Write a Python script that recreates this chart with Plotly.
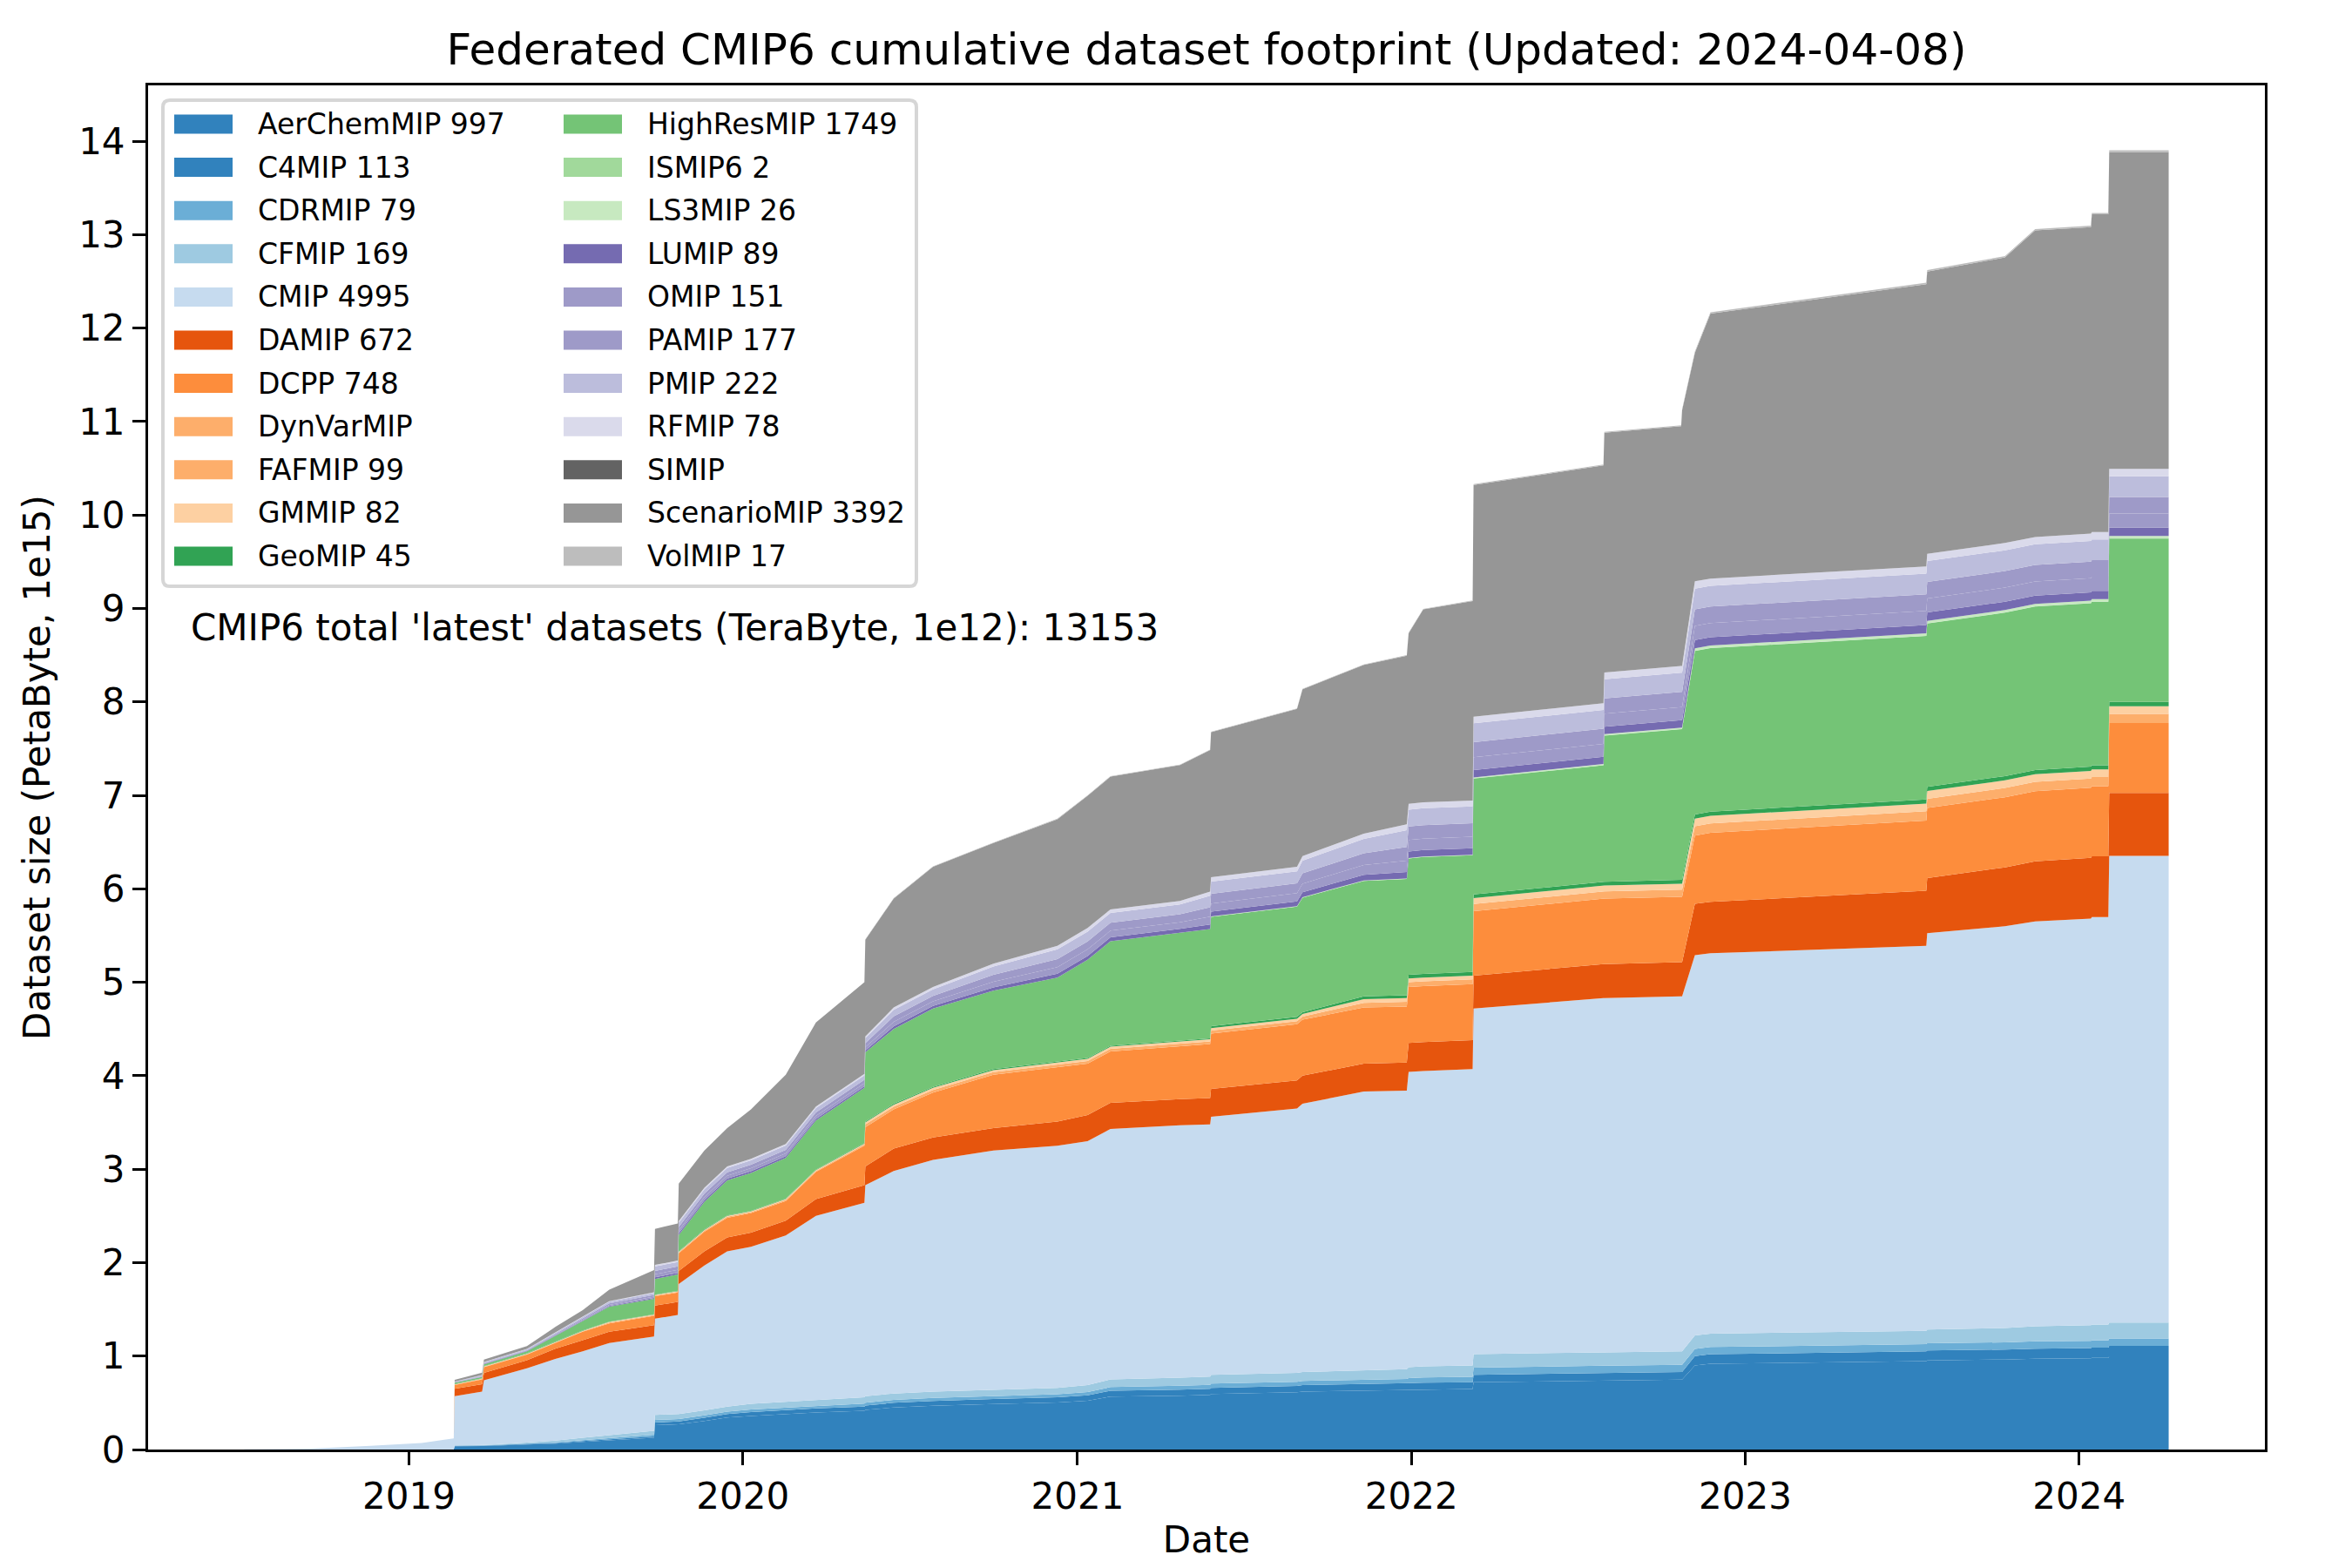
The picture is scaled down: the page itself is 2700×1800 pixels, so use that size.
import pandas as pd
import plotly.graph_objects as go

# snapshot dates (pairs of adjacent days mark the sudden jumps)
DATES = [
    "2018-07-05", "2018-09-15", "2018-11-20", "2019-01-15", "2019-02-19",
    "2019-02-20", "2019-03-22", "2019-03-24", "2019-05-10", "2019-06-10",
    "2019-07-10", "2019-08-08", "2019-09-26", "2019-09-27", "2019-10-22",
    "2019-10-23", "2019-11-20", "2019-12-15", "2020-01-10", "2020-02-17",
    "2020-03-21", "2020-05-13", "2020-05-14", "2020-06-14", "2020-07-27",
    "2020-10-01", "2020-12-10", "2021-01-12", "2021-02-06", "2021-04-23",
    "2021-05-26", "2021-05-27", "2021-08-29", "2021-09-04", "2021-11-10",
    "2021-12-27", "2021-12-29", "2022-01-14", "2022-03-09", "2022-03-10",
    "2022-07-30", "2022-07-31", "2022-10-23", "2022-10-24", "2022-11-07",
    "2022-11-24", "2023-07-18", "2023-07-19", "2023-10-12", "2023-11-14",
    "2024-01-14", "2024-01-15", "2024-02-02", "2024-02-03", "2024-04-08",
]

# cumulative footprint per activity, TeraByte
AERCHEMMIP = [0, 0, 0, 0, 0, 36, 36, 38, 54, 63, 81, 99, 126, 261, 266, 270, 306, 342, 360, 378,
              396, 414, 423, 450, 468, 486, 504, 522, 567, 576, 585, 594, 612, 621, 630, 635, 639, 643, 648, 720,
              738, 738, 747, 747, 900, 918, 945, 954, 963, 972, 977, 981, 981, 997, 997]
C4MIP = [0, 0, 0, 0, 0, 4, 4, 4, 6, 7, 9, 11, 14, 29, 29, 30, 34, 38, 40, 42,
         44, 46, 47, 50, 52, 54, 56, 58, 63, 64, 65, 66, 68, 69, 70, 70, 71, 72, 72, 80,
         82, 82, 83, 83, 100, 102, 105, 106, 107, 108, 108, 109, 109, 113, 113]
CDRMIP = [0, 0, 0, 0, 0, 2, 2, 2, 5, 8, 11, 14, 19, 26, 26, 26, 26, 26, 29, 29,
          29, 32, 32, 32, 32, 32, 32, 35, 38, 42, 42, 45, 45, 45, 48, 50, 54, 56, 58, 77,
          77, 77, 77, 77, 77, 77, 77, 77, 77, 78, 78, 78, 78, 79, 79]
CFMIP = [0, 0, 0, 0, 0, 3, 3, 4, 10, 17, 24, 31, 41, 54, 54, 54, 54, 54, 61, 61,
         61, 68, 68, 68, 68, 68, 68, 75, 82, 88, 88, 95, 95, 95, 102, 105, 116, 119, 122, 143,
         143, 143, 143, 143, 143, 143, 143, 148, 153, 162, 168, 169, 169, 169, 169]
CMIP = [2, 10, 40, 70, 120, 525, 575, 692, 795, 875, 925, 985, 1010, 1030, 1065, 1390, 1550, 1660, 1680, 1780,
        1970, 2080, 2260, 2380, 2480, 2560, 2590, 2610, 2680, 2700, 2700, 2760, 2830, 2870, 2980, 2980, 3160, 3160, 3170, 3700,
        3790, 3790, 3800, 3800, 4070, 4070, 4120, 4240, 4300, 4330, 4350, 4360, 4360, 4995, 4995]
DAMIP = [0, 0, 0, 0, 0, 80, 80, 80, 85, 110, 120, 120, 120, 140, 140, 140, 150, 150, 150, 160,
         180, 190, 200, 240, 240, 240, 260, 280, 280, 280, 280, 300, 300, 300, 300, 300, 310, 310, 310, 350,
         365, 365, 365, 365, 550, 550, 590, 590, 630, 645, 650, 650, 650, 672, 672]
DCPP = [0, 0, 0, 0, 0, 40, 50, 60, 60, 60, 90, 90, 100, 100, 100, 190, 210, 210, 210, 210,
        290, 420, 420, 420, 480, 570, 580, 550, 550, 570, 580, 590, 600, 600, 600, 600, 600, 600, 600, 690,
        700, 700, 700, 700, 730, 740, 750, 750, 750, 750, 750, 750, 750, 748, 748]
DYNVARMIP = [0, 0, 0, 0, 0, 0, 0, 0, 0, 0, 0, 0, 0, 0, 0, 0, 0, 0, 0, 0,
             0, 0, 0, 0, 0, 0, 0, 0, 0, 0, 0, 0, 0, 0, 0, 0, 0, 0, 0, 0,
             0, 0, 0, 0, 0, 0, 0, 0, 0, 0, 0, 0, 0, 0, 0]
FAFMIP = [0, 0, 0, 0, 0, 6, 6, 6, 6, 6, 6, 8, 8, 8, 8, 8, 11, 11, 11, 11,
          11, 14, 28, 28, 28, 28, 28, 28, 28, 28, 28, 33, 33, 33, 50, 50, 50, 50, 50, 77,
          77, 77, 77, 77, 99, 99, 99, 99, 99, 99, 99, 99, 99, 99, 99]
GMMIP = [0, 0, 0, 0, 0, 4, 4, 4, 5, 5, 5, 7, 7, 7, 7, 7, 9, 9, 9, 9,
         9, 11, 22, 22, 22, 22, 22, 22, 22, 22, 22, 27, 27, 27, 40, 40, 40, 40, 40, 63,
         63, 63, 63, 63, 82, 82, 82, 82, 82, 82, 82, 82, 82, 82, 82]
GEOMIP = [0, 0, 0, 0, 0, 3, 3, 3, 3, 3, 3, 3, 3, 3, 3, 5, 5, 5, 5, 5,
          5, 5, 10, 10, 10, 10, 10, 10, 10, 10, 10, 20, 20, 20, 30, 30, 40, 40, 40, 40,
          40, 40, 40, 40, 45, 45, 45, 45, 45, 45, 45, 45, 45, 45, 45]
HIGHRESMIP = [0, 0, 0, 0, 0, 12, 14, 19, 23, 62, 107, 160, 165, 167, 175, 175, 295, 375, 405, 435,
              525, 590, 740, 800, 840, 840, 900, 1050, 1120, 1150, 1170, 1170, 1180, 1225, 1235, 1245, 1245, 1250, 1250, 1240,
              1246, 1563, 1613, 1613, 1749, 1749, 1749, 1749, 1749, 1749, 1749, 1749, 1749, 1749, 1749]
ISMIP6 = [0, 0, 0, 0, 0, 0, 0, 0, 0, 0, 0, 0, 0, 0, 0, 0, 0, 0, 0, 0,
          0, 0, 0, 0, 0, 0, 0, 0, 0, 0, 0, 0, 0, 0, 0, 0, 0, 0, 0, 2,
          2, 2, 2, 2, 2, 2, 2, 2, 2, 2, 2, 2, 2, 2, 2]
LS3MIP = [0, 0, 0, 0, 0, 0, 0, 0, 0, 0, 0, 0, 0, 0, 0, 0, 0, 0, 0, 0,
          0, 0, 0, 0, 0, 0, 0, 0, 0, 0, 0, 5, 5, 5, 5, 5, 5, 5, 5, 10,
          12, 15, 15, 15, 26, 26, 26, 26, 26, 26, 26, 26, 26, 26, 26]
LUMIP = [0, 0, 0, 0, 0, 2, 2, 3, 3, 4, 5, 7, 8, 18, 18, 18, 18, 18, 18, 18,
         18, 18, 20, 28, 28, 35, 41, 41, 41, 41, 48, 50, 50, 53, 60, 70, 70, 70, 70, 78,
         78, 79, 79, 79, 89, 89, 89, 89, 89, 89, 89, 89, 89, 89, 89]
OMIP = [0, 0, 0, 0, 0, 3, 4, 5, 5, 7, 8, 13, 15, 32, 32, 32, 32, 32, 32, 32,
        32, 32, 36, 48, 48, 61, 71, 71, 71, 71, 84, 88, 88, 92, 105, 122, 122, 122, 122, 137,
        137, 139, 139, 139, 151, 151, 151, 151, 151, 151, 151, 151, 151, 151, 151]
PAMIP = [0, 0, 0, 0, 0, 3, 5, 6, 6, 9, 10, 15, 18, 37, 37, 37, 37, 37, 37, 37,
         37, 37, 43, 58, 58, 73, 85, 85, 85, 85, 100, 105, 105, 110, 125, 145, 145, 145, 145, 163,
         163, 165, 165, 165, 177, 177, 177, 177, 177, 177, 177, 177, 177, 177, 177]
PMIP = [0, 0, 0, 0, 0, 4, 6, 8, 8, 11, 12, 19, 22, 47, 47, 47, 47, 47, 47, 47,
        47, 47, 53, 71, 71, 90, 105, 105, 105, 105, 124, 130, 130, 136, 155, 180, 180, 180, 180, 201,
        201, 205, 205, 205, 222, 222, 222, 222, 222, 222, 222, 222, 222, 222, 222]
RFMIP = [0, 0, 0, 0, 0, 1, 3, 3, 3, 4, 5, 6, 7, 16, 16, 16, 16, 16, 16, 16,
         16, 16, 18, 25, 25, 31, 38, 38, 38, 38, 44, 47, 47, 49, 55, 63, 63, 63, 63, 71,
         71, 72, 72, 72, 78, 78, 78, 78, 78, 78, 78, 78, 78, 78, 78]
SIMIP = [0, 0, 0, 0, 0, 0, 0, 0, 0, 0, 0, 0, 0, 0, 0, 0, 0, 0, 0, 0,
         0, 0, 0, 0, 0, 0, 0, 0, 0, 0, 0, 0, 0, 0, 0, 0, 0, 0, 0, 0,
         0, 0, 0, 0, 0, 0, 0, 0, 0, 0, 0, 0, 0, 0, 0]
SCENARIOMIP = [0, 0, 0, 0, 0, 17, 25, 25, 30, 60, 70, 122, 237, 385, 397, 400, 400, 410, 530, 740,
               900, 980, 1035, 1165, 1285, 1290, 1355, 1415, 1420, 1455, 1515, 1550, 1690, 1785, 1805, 1805, 1825, 2065, 2135, 2478,
               2545, 2565, 2565, 2735, 2445, 2835, 3020, 3020, 3055, 3280, 3280, 3400, 3400, 3392, 3392]
VOLMIP = [0, 0, 0, 0, 0, 0, 0, 0, 0, 0, 0, 0, 0, 0, 0, 0, 0, 0, 0, 0,
          0, 0, 5, 5, 5, 5, 5, 5, 5, 5, 5, 5, 5, 5, 5, 5, 5, 5, 5, 10,
          10, 10, 10, 10, 15, 15, 15, 15, 15, 15, 15, 15, 15, 17, 17]

NAMES = ["AerChemMIP", "C4MIP", "CDRMIP", "CFMIP", "CMIP", "DAMIP", "DCPP", "DynVarMIP",
         "FAFMIP", "GMMIP", "GeoMIP", "HighResMIP", "ISMIP6", "LS3MIP", "LUMIP", "OMIP",
         "PAMIP", "PMIP", "RFMIP", "SIMIP", "ScenarioMIP", "VolMIP"]
SERIES = [AERCHEMMIP, C4MIP, CDRMIP, CFMIP, CMIP, DAMIP, DCPP, DYNVARMIP,
          FAFMIP, GMMIP, GEOMIP, HIGHRESMIP, ISMIP6, LS3MIP, LUMIP, OMIP,
          PAMIP, PMIP, RFMIP, SIMIP, SCENARIOMIP, VOLMIP]
COLORS = ["#3182bd", "#3182bd", "#6baed6", "#9ecae1", "#c6dbef", "#e6550d", "#fd8d3c", "#fdae6b",
          "#fdae6b", "#fdd0a2", "#31a354", "#74c476", "#a1d99b", "#c7e9c0", "#756bb1", "#9e9ac8",
          "#9e9ac8", "#bcbddc", "#dadaeb", "#636363", "#969696", "#bdbdbd"]

TOTAL_TB = 13153
UPDATED = "2024-04-08"

FONT = "DejaVu Sans"
W, H = 2700, 1800
ML, MR, MT, MB = 162, 108, 90, 144
PW, PH = W - ML - MR, H - MT - MB


def px(x):
    return (x - ML) / PW


def py(y):
    return (H - MB - y) / PH


fig = go.Figure()

for name, color, values in zip(NAMES, COLORS, SERIES):
    fig.add_trace(go.Scatter(
        x=DATES, y=[v / 1000 for v in values], name=name,
        mode="lines", stackgroup="cmip6",
        line=dict(width=0, color=color), fillcolor=color,
        showlegend=False,
    ))

# axis limits with matplotlib-like 5% margins
d = pd.to_datetime(DATES)
span = d[-1] - d[0]
x_lo, x_hi = d[0] - span * 0.05, d[-1] + span * 0.05
y_top = max(sum(col) for col in zip(*SERIES)) / 1000 * 1.05

# legend drawn as a two-column box (11 rows per column)
shapes, annotations = [], []
bx0, bx1, by0, by1, rad = 179, 1044, 107, 665, 8
frame = (f"M{px(bx0 + rad)},{py(by0)} L{px(bx1 - rad)},{py(by0)} Q{px(bx1)},{py(by0)} {px(bx1)},{py(by0 + rad)} "
         f"L{px(bx1)},{py(by1 - rad)} Q{px(bx1)},{py(by1)} {px(bx1 - rad)},{py(by1)} "
         f"L{px(bx0 + rad)},{py(by1)} Q{px(bx0)},{py(by1)} {px(bx0)},{py(by1 - rad)} "
         f"L{px(bx0)},{py(by0 + rad)} Q{px(bx0)},{py(by0)} {px(bx0 + rad)},{py(by0)} Z")
shapes.append(dict(type="path", xref="paper", yref="paper", path=frame,
                   line=dict(color="#d6d6d6", width=4), fillcolor="rgba(255,255,255,0.8)", layer="above"))

row0, row_step, col_x, sw_w, sw_h, text_dx = 134.5, 49.6, [192, 639], 67, 22, 94
for k, (name, color, values) in enumerate(zip(NAMES, COLORS, SERIES)):
    col, row = divmod(k, 11)
    cy = row0 + row * row_step
    sx = col_x[col]
    shapes.append(dict(type="rect", xref="paper", yref="paper",
                       x0=px(sx), x1=px(sx + sw_w), y0=py(cy - sw_h / 2), y1=py(cy + sw_h / 2),
                       line=dict(width=0), fillcolor=color, layer="above"))
    label = f"{name} {values[-1]}" if values[-1] else name
    annotations.append(dict(text=label, xref="paper", yref="paper", x=px(sx + text_dx), y=py(cy),
                            xanchor="left", yanchor="middle", showarrow=False,
                            font=dict(size=33, family=FONT, color="black")))

annotations.append(dict(text=f"CMIP6 total 'latest' datasets (TeraByte, 1e12): {TOTAL_TB}",
                        xref="paper", yref="paper", x=px(209), y=py(712),
                        xanchor="left", yanchor="middle", showarrow=False,
                        font=dict(size=42, family=FONT, color="black")))

axis_style = dict(showline=True, linecolor="black", linewidth=3, mirror=True,
                  ticks="outside", ticklen=15, tickwidth=3, tickcolor="black",
                  tickfont=dict(size=42, family=FONT, color="black"),
                  showgrid=False, zeroline=False, automargin=False)

fig.update_layout(
    width=W, height=H,
    margin=dict(l=ML, r=MR, t=MT, b=MB),
    paper_bgcolor="white", plot_bgcolor="white",
    font=dict(family=FONT, color="black"),
    title=dict(text=f"Federated CMIP6 cumulative dataset footprint (Updated: {UPDATED})",
               x=0.5, xref="paper", xanchor="center", y=1 - 48 / H, yref="container", yanchor="middle",
               font=dict(size=50, family=FONT, color="black")),
    xaxis=dict(type="date", range=[x_lo, x_hi], dtick="M12", tick0="2019-01-01", tickformat="%Y",
               title=dict(text="Date", font=dict(size=42, family=FONT, color="black"), standoff=12),
               **axis_style),
    yaxis=dict(range=[0, y_top], dtick=1, tick0=0,
               title=dict(text="Dataset size (PetaByte, 1e15)", font=dict(size=42, family=FONT, color="black"),
                          standoff=20),
               **axis_style),
    shapes=shapes,
    annotations=annotations,
    showlegend=False,
)

fig.write_html("out.html")
